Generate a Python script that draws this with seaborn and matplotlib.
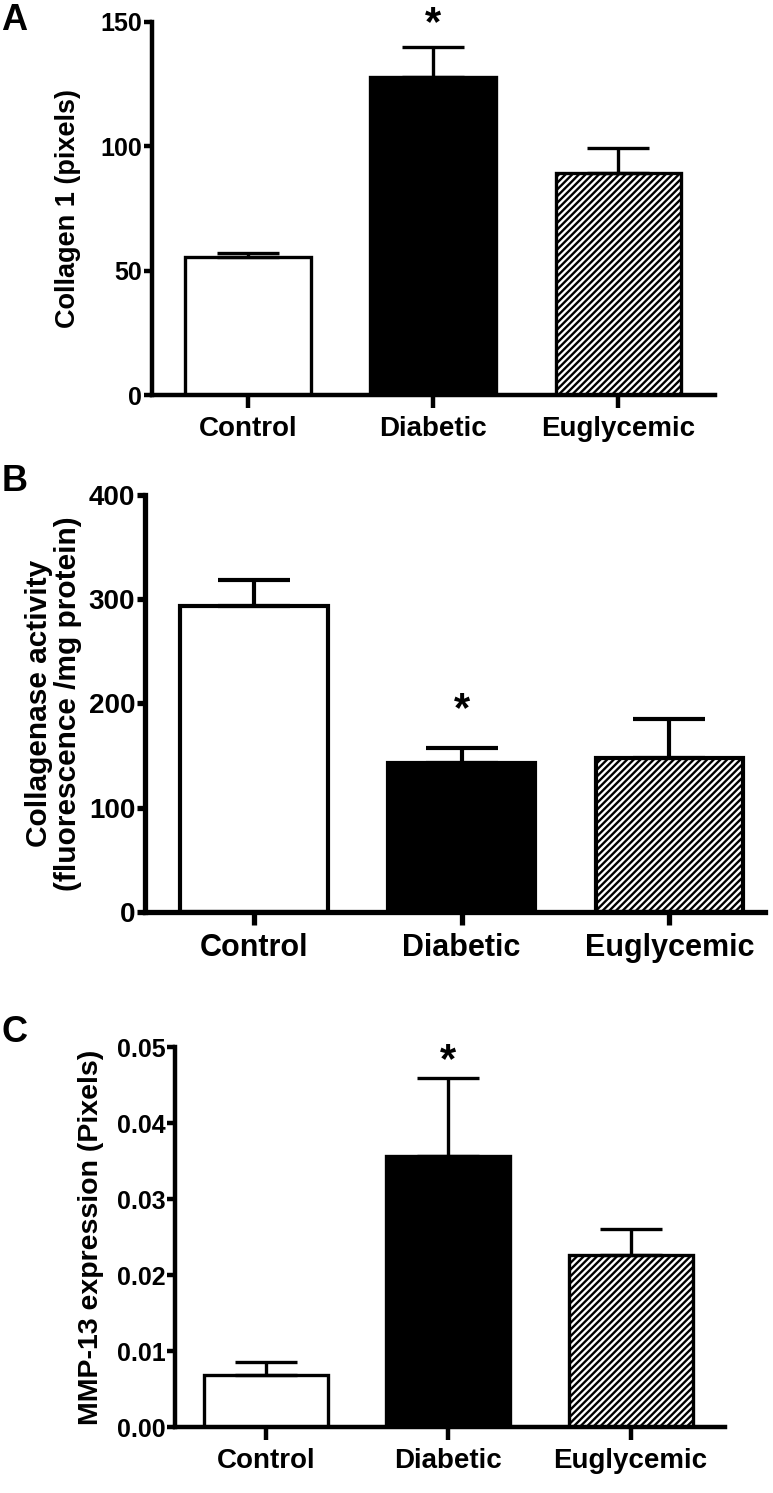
import numpy as np
import pandas as pd
import matplotlib
matplotlib.use("Agg")
import matplotlib.pyplot as plt
import seaborn as sns

# --- datos ---
groups = ["Control", "Diabetic", "Euglycemic"]

collagen_mean = [55.5, 128.0, 89.2]
collagen_sem = [1.5, 12.0, 10.3]

collagenase_mean = [293.0, 143.0, 148.0]
collagenase_sem = [25.0, 14.5, 37.5]

mmp13_mean = [0.0068, 0.0356, 0.0226]
mmp13_sem = [0.0017, 0.0103, 0.0035]

sns.set_theme(style="ticks")
plt.rcParams['font.family'] = ['Liberation Sans', 'DejaVu Sans']
plt.rcParams['hatch.linewidth'] = 1.7
plt.rcParams['hatch.color'] = 'black'
plt.rcParams['text.color'] = 'black'
plt.rcParams['axes.labelcolor'] = 'black'

fig = plt.figure(figsize=(7.73, 14.93), dpi=100)


def panel(rect, means, sems, ylim, yticks, ylabels, ylabel, letter, letter_pos,
          star_y, xlim, width, tick_fs, xtick_fs, ylabel_fs, ylabel_pad,
          lw=2.4, spine_lw=3.2, cap=22, linespacing=1.0):
    ax = fig.add_axes(rect)
    df = pd.DataFrame({"grupo": groups, "valor": means})
    sns.barplot(data=df, x="grupo", y="valor", ax=ax, width=width,
                color="white", edgecolor="black", linewidth=lw,
                errorbar=None, saturation=1)
    # blanco, negro y rayado diagonal
    fills = ["white", "black", "white"]
    hatches = [None, None, "/////"]
    for p, fc, h in zip(ax.patches, fills, hatches):
        p.set_facecolor(fc)
        if h:
            p.set_hatch(h)
    x = np.arange(len(groups))
    # solo la barra de error superior (SEM)
    ax.errorbar(x, means, yerr=[np.zeros(len(sems)), sems], fmt="none",
                ecolor="black", elinewidth=lw, capsize=cap, capthick=lw,
                zorder=1)
    ax.set_ylim(*ylim)
    ax.set_xlim(*xlim)
    ax.set_yticks(yticks)
    ax.set_yticklabels(ylabels, fontsize=tick_fs, fontweight="bold")
    ax.set_xticks(x)
    ax.set_xticklabels(groups, fontsize=xtick_fs, fontweight="bold")
    ax.set_xlabel("")
    ax.set_ylabel(ylabel, fontsize=ylabel_fs, fontweight="bold",
                  labelpad=ylabel_pad, linespacing=linespacing, color="black")
    sns.despine(ax=ax)
    for s in ["left", "bottom"]:
        ax.spines[s].set_linewidth(spine_lw)
        ax.spines[s].set_color("black")
    ax.tick_params(axis="y", length=6, width=spine_lw, pad=1, colors="black")
    ax.tick_params(axis="x", length=9, width=spine_lw, pad=6, colors="black")
    ax.text(1, star_y, "*", ha="center", va="center", fontsize=30,
            fontweight="bold", clip_on=False, color="black")
    fig.text(letter_pos[0], letter_pos[1], letter, fontsize=26,
             fontweight="bold", ha="left", va="top", color="black")
    ax.set_facecolor("white")
    return ax


panel([0.1966, 0.7354, 0.728, 0.2499], collagen_mean, collagen_sem,
      (0, 150), [0, 50, 100, 150], ["0", "50", "100", "150"],
      "Collagen 1 (pixels)", "A", (0.002, 0.998), 149, (-0.52, 2.52), 0.68,
      18, 20, 19.5, 14)

panel([0.1876, 0.3892, 0.802, 0.2793], collagenase_mean, collagenase_sem,
      (0, 400), [0, 100, 200, 300, 400], ["0", "100", "200", "300", "400"],
      "Collagenase activity\n(fluorescence /mg protein)", "B", (0.002, 0.689),
      194, (-0.524, 2.46), 0.71, 20, 22, 21.5, 5,
      lw=3.0, spine_lw=3.8, cap=26, linespacing=1.05)

panel([0.2264, 0.0442, 0.712, 0.2545], mmp13_mean, mmp13_sem,
      (0, 0.05), [0, 0.01, 0.02, 0.03, 0.04, 0.05],
      ["0.00", "0.01", "0.02", "0.03", "0.04", "0.05"],
      "MMP-13 expression (Pixels)", "C", (0.002, 0.320), 0.0482,
      (-0.5, 2.52), 0.68, 18, 20, 20.5, 9)

fig.savefig("out.png", dpi=100, facecolor="white")
